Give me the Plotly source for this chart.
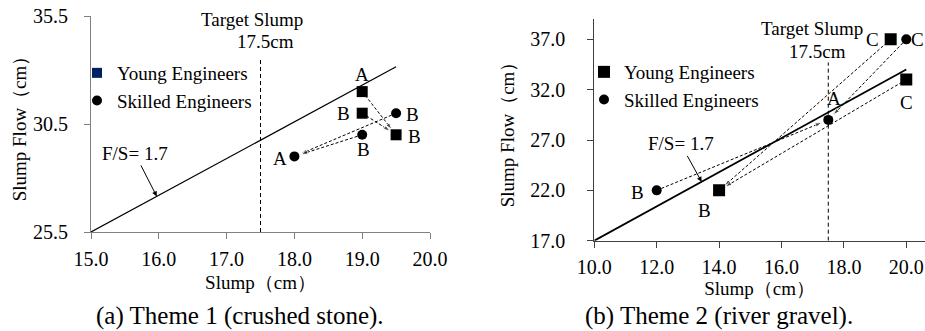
import plotly.graph_objects as go

FONT = "Liberation Serif, 'Times New Roman', serif"
FS_RATIO = 1.7
TARGET_SLUMP = 17.5

# ---------------- Theme 1 (crushed stone) ----------------
t1_young_x = [19.0, 19.0, 19.5]
t1_young_y = [32.0, 31.0, 30.0]
t1_young_lbl = ["A", "B", "B"]
t1_skilled_x = [18.0, 19.0, 19.5]
t1_skilled_y = [29.0, 30.0, 31.0]
t1_skilled_lbl = ["A", "B", "B"]
t1_arrow_from_x = [19.0, 19.0, 19.5, 19.0]
t1_arrow_from_y = [32.0, 31.0, 31.0, 30.0]
t1_arrow_to_x = [19.5, 19.5, 18.0, 18.0]
t1_arrow_to_y = [30.0, 30.0, 29.0, 29.0]
t1_fs_x = [15.0, 19.5]
t1_xticks = [15.0, 16.0, 17.0, 18.0, 19.0, 20.0]
t1_yticks = [25.5, 30.5, 35.5]

# ---------------- Theme 2 (river gravel) ----------------
t2_young_x = [19.5, 20.0, 14.0]
t2_young_y = [37.0, 33.0, 22.0]
t2_young_lbl = ["C", "C", "B"]
t2_skilled_x = [20.0, 17.5, 12.0]
t2_skilled_y = [37.0, 29.0, 22.0]
t2_skilled_lbl = ["C", "A", "B"]
t2_arrow_from_x = [19.5, 20.0, 20.0, 12.0]
t2_arrow_from_y = [37.0, 33.0, 37.0, 22.0]
t2_arrow_to_x = [14.0, 14.0, 17.5, 17.5]
t2_arrow_to_y = [22.0, 22.0, 29.0, 29.0]
t2_fs_x = [10.0, 20.0]
t2_xticks = [10.0, 12.0, 14.0, 16.0, 18.0, 20.0]
t2_yticks = [17.0, 22.0, 27.0, 32.0, 37.0]

# label offsets (px) -- style only
t1_young_shift = [(0, 17), (-19, 0), (18, -2)]
t1_skilled_shift = [(-14, -2), (1, -15), (16, -1)]
t2_young_shift = [(-18, 0), (0, -23), (-15, -20)]
t2_skilled_shift = [(11, 0), (6, 21), (-19, -2)]

fig = go.Figure()


def add_panel(xa, ya, fs_x, yx, yy, ylbl, ysh, sx, sy, slbl, ssh,
              afx, afy, atx, aty, fs_width, sq_size, legend, young_legend_color):
    # F/S = 1.7 reference line
    fig.add_trace(go.Scatter(x=fs_x, y=[FS_RATIO * v for v in fs_x], mode="lines",
                             line=dict(color="black", width=fs_width),
                             xaxis=xa, yaxis=ya, showlegend=False, hoverinfo="skip"))
    # dashed arrows
    for x0, y0, x1, y1 in zip(afx, afy, atx, aty):
        fig.add_trace(go.Scatter(
            x=[x0, x1], y=[y0, y1], mode="lines+markers",
            line=dict(color="black", width=1, dash="3px,2px"),
            marker=dict(symbol=["circle", "arrow"], size=[0, 7], color="black",
                        angleref="previous", standoff=[0, 7]),
            xaxis=xa, yaxis=ya, showlegend=False, hoverinfo="skip"))
    # points
    fig.add_trace(go.Scatter(x=yx, y=yy, mode="markers", name="Young Engineers",
                             marker=dict(symbol="square", size=sq_size, color="black"),
                             xaxis=xa, yaxis=ya, showlegend=(young_legend_color is None),
                             legend=legend))
    fig.add_trace(go.Scatter(x=sx, y=sy, mode="markers", name="Skilled Engineers",
                             marker=dict(symbol="circle", size=10, color="black"),
                             xaxis=xa, yaxis=ya, showlegend=False, legend=legend))
    if young_legend_color is not None:
        fig.add_trace(go.Scatter(x=[None], y=[None], mode="markers", name="Young Engineers",
                                 marker=dict(symbol="square", size=10, color=young_legend_color),
                                 xaxis=xa, yaxis=ya, legend=legend))
    fig.add_trace(go.Scatter(x=[None], y=[None], mode="markers", name="Skilled Engineers",
                             marker=dict(symbol="circle", size=10, color="black"),
                             xaxis=xa, yaxis=ya, legend=legend))
    # point labels
    for xs, ys, lbls, shs in ((yx, yy, ylbl, ysh), (sx, sy, slbl, ssh)):
        for x, y, t, (dx, dy) in zip(xs, ys, lbls, shs):
            fig.add_annotation(x=x, y=y, xref=xa, yref=ya, text=t, showarrow=False,
                               xshift=dx, yshift=dy, font=dict(size=19, color="black"))


add_panel("x", "y", t1_fs_x, t1_young_x, t1_young_y, t1_young_lbl, t1_young_shift,
          t1_skilled_x, t1_skilled_y, t1_skilled_lbl, t1_skilled_shift,
          t1_arrow_from_x, t1_arrow_from_y, t1_arrow_to_x, t1_arrow_to_y,
          1.2, 11, "legend", "#002060")
add_panel("x2", "y2", t2_fs_x, t2_young_x, t2_young_y, t2_young_lbl, t2_young_shift,
          t2_skilled_x, t2_skilled_y, t2_skilled_lbl, t2_skilled_shift,
          t2_arrow_from_x, t2_arrow_from_y, t2_arrow_to_x, t2_arrow_to_y,
          1.8, 12, "legend2", None)

# target slump lines
fig.add_shape(type="line", xref="x", yref="y", x0=TARGET_SLUMP, x1=TARGET_SLUMP, y0=25.5, y1=33.5,
              line=dict(color="black", width=1, dash="4px,3px"))
fig.add_shape(type="line", xref="x2", yref="y2", x0=TARGET_SLUMP, x1=TARGET_SLUMP, y0=17.0, y1=34.7,
              line=dict(color="black", width=1, dash="4px,3px"))

# target slump text
fig.add_annotation(x=17.37, y=35.36, xref="x", yref="y", text="Target Slump", showarrow=False,
                   font=dict(size=19))
fig.add_annotation(x=17.57, y=34.3, xref="x", yref="y", text="17.5cm", showarrow=False,
                   font=dict(size=19))
fig.add_annotation(x=16.97, y=38.1, xref="x2", yref="y2", text="Target Slump", showarrow=False,
                   font=dict(size=19))
fig.add_annotation(x=17.16, y=35.8, xref="x2", yref="y2", text="17.5cm", showarrow=False,
                   font=dict(size=19))

# F/S labels with arrows
fig.add_annotation(x=15.97, y=FS_RATIO * 15.97, xref="x", yref="y", text="F/S= 1.7",
                   showarrow=True, ax=-22, ay=-43, arrowhead=2, arrowsize=1, arrowwidth=1,
                   arrowcolor="black", font=dict(size=19))
fig.add_annotation(x=13.44, y=FS_RATIO * 13.44, xref="x2", yref="y2", text="F/S= 1.7",
                   showarrow=True, ax=-21, ay=-38, arrowhead=2, arrowsize=1, arrowwidth=1,
                   arrowcolor="black", font=dict(size=19))

# captions
fig.add_annotation(x=240 / 925, y=(331 - 316) / 331, xref="paper", yref="paper",
                   xanchor="center", yanchor="middle",
                   text="(a) Theme 1 (crushed stone).", showarrow=False, font=dict(size=25))
fig.add_annotation(x=719 / 925, y=(331 - 316) / 331, xref="paper", yref="paper",
                   xanchor="center", yanchor="middle",
                   text="(b) Theme 2 (river gravel).", showarrow=False, font=dict(size=25))

axis_common = dict(showgrid=False, zeroline=False, ticks="outside", ticklen=6,
                   showline=True, automargin=False, tickfont=dict(size=20, color="black"),
                   tickformat=".1f", fixedrange=True)

fig.update_layout(
    width=925, height=331,
    margin=dict(l=0, r=0, t=0, b=0),
    paper_bgcolor="white", plot_bgcolor="white",
    font=dict(family=FONT, size=19, color="black"),
    xaxis=dict(domain=[91 / 925, 430 / 925], range=[15, 20], tickvals=t1_xticks,
               linecolor="#808080", tickcolor="#808080", ticklabelstandoff=3,
               title=dict(text="Slump（cm）", standoff=6, font=dict(size=19)),
               anchor="y", **axis_common),
    yaxis=dict(domain=[(331 - 232) / 331, (331 - 16) / 331], range=[25.5, 35.5], tickvals=t1_yticks,
               linecolor="#808080", tickcolor="#808080", ticklabelstandoff=12,
               title=dict(text="Slump Flow（cm）", standoff=1, font=dict(size=19)),
               anchor="x", **axis_common),
    xaxis2=dict(domain=[594.3 / 925, 1.0], range=[10, 20.6], tickvals=t2_xticks,
                linecolor="#404040", tickcolor="#404040", ticklabelstandoff=2,
                title=dict(text="Slump（cm）", standoff=2, font=dict(size=19)),
                anchor="y2", **axis_common),
    yaxis2=dict(domain=[(331 - 240.7) / 331, (331 - 19.2) / 331], range=[17, 39], tickvals=t2_yticks,
                linecolor="#404040", tickcolor="#404040", ticklabelstandoff=18,
                title=dict(text="Slump Flow（cm）", standoff=10, font=dict(size=19)),
                anchor="x2", **axis_common),
    legend=dict(x=77 / 925, y=(331 - 54) / 331, xanchor="left", yanchor="top",
                bgcolor="rgba(0,0,0,0)", font=dict(size=19), tracegroupgap=0),
    legend2=dict(x=584 / 925, y=(331 - 53) / 331, xanchor="left", yanchor="top",
                 bgcolor="rgba(0,0,0,0)", font=dict(size=19), tracegroupgap=0),
    showlegend=True,
)

fig.write_html("out.html", config={"displayModeBar": False},
               post_script="document.body.style.margin='0px';")
